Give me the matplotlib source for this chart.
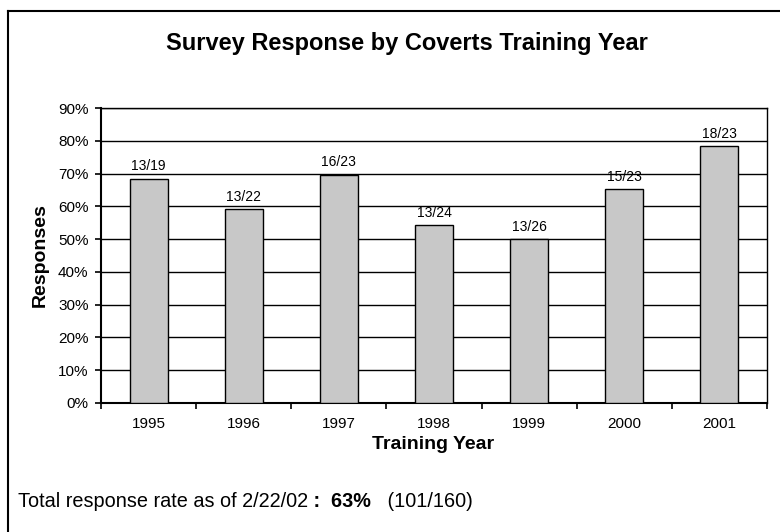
import matplotlib
matplotlib.use("Agg")
from matplotlib import pyplot as plt
from matplotlib.lines import Line2D

plt.rcParams['font.family'] = ['Liberation Sans', 'DejaVu Sans']

# 数据
years     = ['1995', '1996', '1997', '1998', '1999', '2000', '2001']
rates     = [68.4, 59.1, 69.6, 54.2, 50.0, 65.2, 78.3]
labels    = ['13/19', '13/22', '16/23', '13/24', '13/26', '15/23', '18/23']
y_ticks   = [0, 10, 20, 30, 40, 50, 60, 70, 80, 90]

W, H = 780, 532
fig = plt.figure(figsize=(7.8, 5.32), dpi=100)
ax  = fig.add_axes([101 / W, 1 - 403 / H, (767 - 101) / W, (403 - 108) / H])

x = list(range(len(years)))
ax.bar(x, rates, width=0.4, color='#C8C8C8', edgecolor='black', linewidth=1, zorder=3)

for xi, r, lab in zip(x, rates, labels):
    ax.annotate(lab, (xi, r), xytext=(0, 4), textcoords='offset points',
                ha='center', va='bottom', fontsize=10)

ax.set_xlim(-0.5, len(years) - 0.5)
ax.set_ylim(0, 90)
ax.set_yticks(y_ticks)
ax.set_yticklabels([f'{t}%' for t in y_ticks], fontsize=11)
ax.yaxis.grid(True, color='black', linewidth=1, zorder=0)
ax.set_axisbelow(True)

# x轴刻度: 标签在中间, 刻度线在分隔处
ax.set_xticks(x)
ax.set_xticklabels(years, fontsize=11)
ax.tick_params(axis='x', length=0, pad=10)
ax.set_xticks([i - 0.5 for i in range(len(years) + 1)], minor=True)
ax.tick_params(axis='x', which='minor', length=4, width=1.2, direction='out')
ax.tick_params(axis='y', length=4, width=1.2, direction='out', pad=5)

for s in ax.spines.values():
    s.set_linewidth(1)
ax.spines['left'].set_linewidth(1.5)
ax.spines['bottom'].set_linewidth(1.5)

# 轴标题
fig.text(433 / W, 1 - 449 / H, 'Training Year', ha='center', va='baseline',
         fontsize=14, fontweight='bold')
fig.text(40 / W, 1 - 255 / H, 'Responses', ha='center', va='center', rotation=90,
         fontsize=14, fontweight='bold')

fig.text(407 / W, 1 - 50 / H, 'Survey Response by Coverts Training Year',
         ha='center', va='baseline', fontsize=17, fontweight='bold')

# 外框 (只有上边和左边可见)
fig.add_artist(Line2D([8 / W, 8 / W], [0, 1 - 11 / H], color='black', lw=1.5))
fig.add_artist(Line2D([8 / W, 1], [1 - 11 / H, 1 - 11 / H], color='black', lw=1.5))

# 底部说明
fig.canvas.draw()
r  = fig.canvas.get_renderer()
px = 18
yy = 1 - 507 / H
for txt, wt in [('Total response rate as of 2/22/02', 'normal'),
                (' :', 'bold'),
                ('  63%', 'bold'),
                ('   (101/160)', 'normal')]:
    t = fig.text(px / W, yy, txt, ha='left', va='baseline', fontsize=14.3, fontweight=wt)
    px += t.get_window_extent(r).width

fig.savefig('out.png', dpi=100)
